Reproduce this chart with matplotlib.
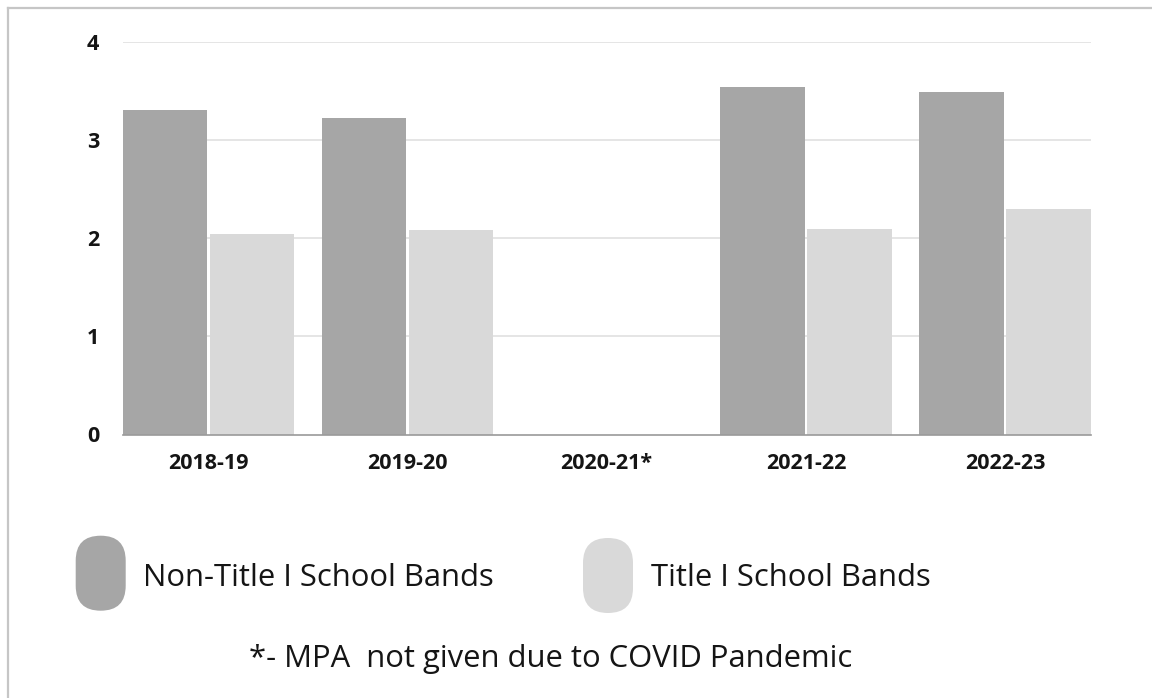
import matplotlib
matplotlib.use("Agg")
import matplotlib.pyplot as plt
import numpy as np
from matplotlib.patches import FancyBboxPatch
from matplotlib.lines import Line2D

# Data
years = ["2018-19", "2019-20", "2020-21*", "2021-22", "2022-23"]
non_title = [3.30, 3.22, 0.0, 3.54, 3.49]
title_one = [2.04, 2.08, 0.0, 2.09, 2.30]
series_names = ["Non-Title I School Bands", "Title I School Bands"]
yticks = [0, 1, 2, 3, 4]
footnote = "*- MPA  not given due to COVID Pandemic"

dark = "#a6a6a6"
light = "#d9d9d9"
grid_c = "#dedede"
text_c = "#151515"

plt.rcParams["font.family"] = ["Open Sans", "DejaVu Sans"]

W, H = 1152, 698
fig = plt.figure(figsize=(W / 100, H / 100), dpi=100)
fig.patch.set_facecolor("white")

left_px, right_px = 122.7, 1090.7
top_px, base_px = 41.7, 434.5
ax = fig.add_axes([left_px / W, 1 - base_px / H,
                   (right_px - left_px) / W, (base_px - top_px) / H])

x = np.arange(len(years))
bw = 0.424
off = 0.2185
ax.bar(x - off, non_title, width=bw, color=dark, zorder=2)
ax.bar(x + off, title_one, width=bw, color=light, zorder=2)

ax.set_xlim(-0.43, len(years) - 1 + 0.43)
ax.set_ylim(0, 4)
ax.set_yticks(yticks)
ax.set_yticklabels([str(t) for t in yticks])
ax.set_xticks(x)
ax.set_xticklabels(years)
for s in ["top", "right", "left"]:
    ax.spines[s].set_visible(False)
ax.spines["bottom"].set_color("#9a9a9a")
ax.spines["bottom"].set_linewidth(1.2)
ax.spines["bottom"].set_zorder(3)
ax.tick_params(axis="both", length=0, labelsize=15.5, labelcolor=text_c)
ax.tick_params(axis="y", pad=17)
ax.tick_params(axis="x", pad=13)
for lab in ax.get_xticklabels() + ax.get_yticklabels():
    lab.set_fontweight("bold")
for t in yticks[1:]:
    ax.axhline(t, color=grid_c, lw=1.1, zorder=1)
ax.set_facecolor("none")

# Overlay in pixel units for the frame and the legend
ov = fig.add_axes([0, 0, 1, 1], zorder=-1)
ov.set_xlim(0, W)
ov.set_ylim(H, 0)
ov.axis("off")
ov.add_line(Line2D([7.5, W], [7.5, 7.5], color="#c6c6c6", lw=1.6))
ov.add_line(Line2D([7.5, 7.5], [7.5, H], color="#c6c6c6", lw=1.6))

fg = fig.add_axes([0, 0, 1, 1], zorder=5)
fg.set_xlim(0, W)
fg.set_ylim(H, 0)
fg.axis("off")


def pill(ax_, x0, y0, w, h, color):
    r = w / 2
    ax_.add_patch(FancyBboxPatch((x0 + r, y0 + r), w - 2 * r, h - 2 * r,
                                 boxstyle=f"round,pad={r}",
                                 fc=color, ec="none"))


legend_items = [
    (75.7, 535.7, dark, 143, 578),
    (583.0, 538.0, light, 651, 578),
]
for (px, py, col, tx, ty), name in zip(legend_items, series_names):
    pill(fg, px, py, 50, 75, col)
    fg.text(tx, ty, name, fontsize=22.3, color=text_c,
            va="center", ha="left")

fg.text(551, 659, footnote, fontsize=22.3, color=text_c,
        va="center", ha="center")

fig.savefig("out.png", dpi=100, facecolor="white")
